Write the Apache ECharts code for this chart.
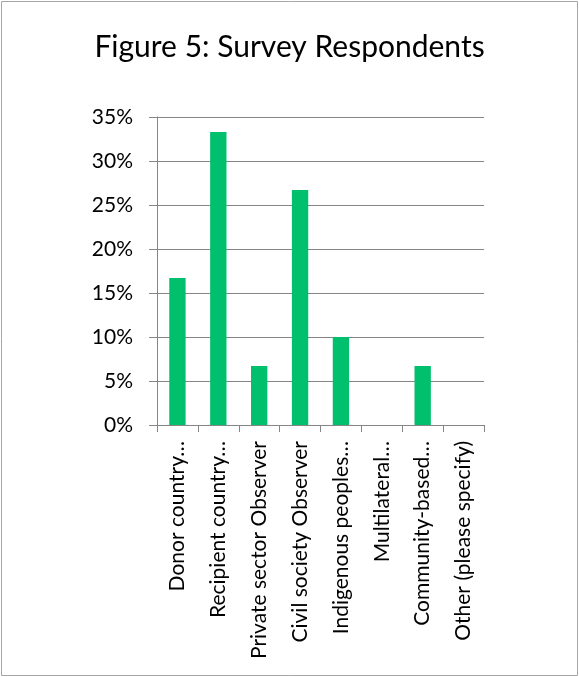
<!DOCTYPE html>
<html>
<head>
<meta charset="utf-8">
<script src="https://cdn.jsdelivr.net/npm/echarts@6/dist/echarts.min.js"></script>
<style>html,body{margin:0;padding:0;background:#fff}#c{width:579px;height:677px}</style>
</head>
<body>
<div id="c"></div>
<script>
const categories = ["Donor country…","Recipient country…","Private sector Observer","Civil society Observer","Indigenous peoples…","Multilateral…","Community-based…","Other (please specify)"];
const values = [16.7, 33.3, 6.7, 26.7, 10.0, 0, 6.7, 0];
const yTicks = {min: 0, max: 35, interval: 5};
const titleText = "Figure 5: Survey Respondents";

const font = "Lato, 'Open Sans', sans-serif";
const chart = echarts.init(document.getElementById('c'), null, {renderer: 'canvas'});
chart.setOption({
  animation: false,
  title: {text: titleText, left: 'center', top: 27, textStyle: {fontFamily: font, fontSize: 30, fontWeight: 'normal', color: '#000'}},
  graphic: [{type: 'rect', shape: {x: 1.5, y: 1.5, width: 576, height: 674}, style: {fill: 'none', stroke: '#a6a6a6', lineWidth: 1}, silent: true}],
  grid: {left: 157, right: 95, top: 117, bottom: 252, containLabel: false},
  xAxis: {
    type: 'category', data: categories,
    axisLine: {lineStyle: {color: '#868686', width: 1}},
    axisTick: {show: true, length: 7, alignWithLabel: false, lineStyle: {color: '#868686'}},
    axisLabel: {rotate: 90, interval: 0, margin: 16, color: '#000', fontFamily: font, fontSize: 21}
  },
  yAxis: {
    type: 'value', min: yTicks.min, max: yTicks.max, interval: yTicks.interval,
    axisLine: {show: true, lineStyle: {color: '#868686', width: 1}},
    axisTick: {show: true, length: 8, lineStyle: {color: '#868686'}},
    splitLine: {lineStyle: {color: '#868686', width: 1}},
    axisLabel: {formatter: '{value}%', margin: 24, color: '#000', fontFamily: font, fontSize: 21}
  },
  series: [{type: 'bar', data: values, barWidth: '40%', itemStyle: {color: '#00c06e'}}]
});
</script>
</body>
</html>
